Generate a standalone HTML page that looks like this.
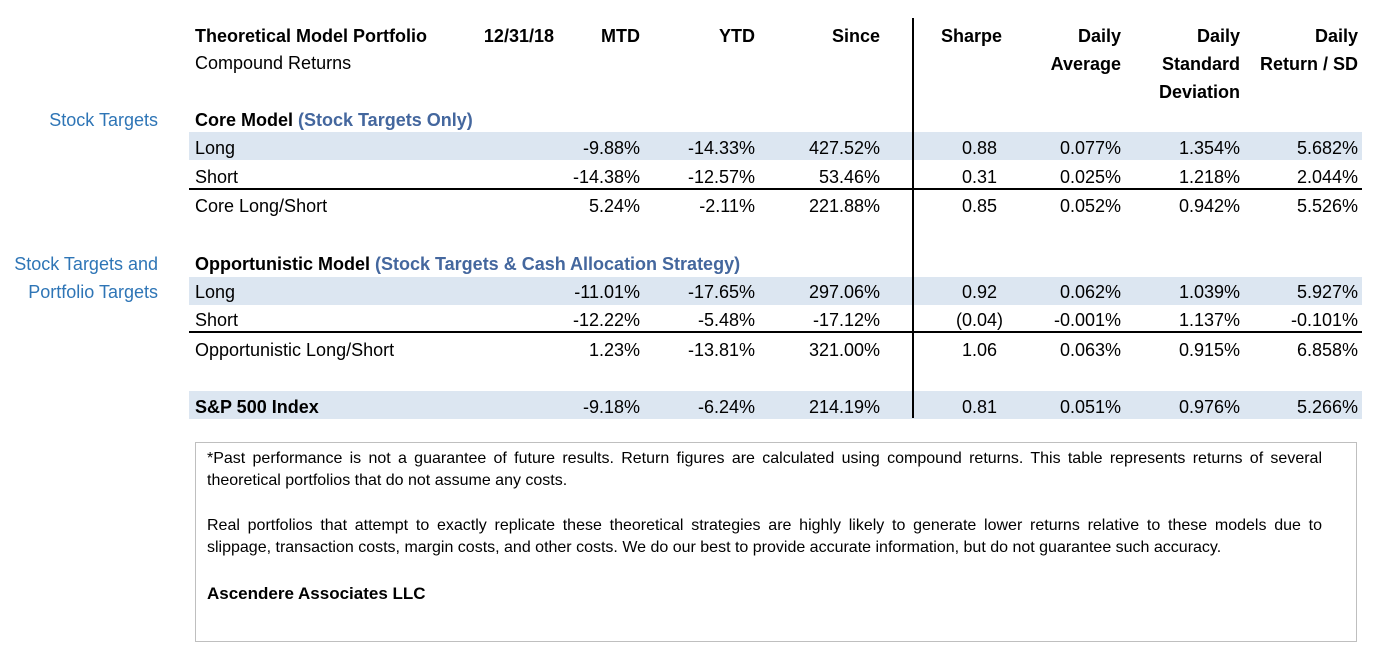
<!DOCTYPE html>
<html><head><meta charset="utf-8">
<style>
body{margin:0;width:1374px;height:650px;background:#fff;position:relative;overflow:hidden;font-family:"Liberation Sans",sans-serif;font-size:18px;color:#000}
.t{position:absolute;height:28px;line-height:30px;white-space:nowrap}
.r{text-align:right}
.b{font-weight:bold}
.shade{position:absolute;left:189px;width:1173px;background:#dce6f1}
.hl{position:absolute;left:189px;width:1173px;height:2px;background:#000}
.lbl{color:#2e75b6}
.sub{color:#44679e}
#box{position:absolute;left:195px;top:442px;width:1160px;height:198px;border:1px solid #bfbfbf}
.fn{position:absolute;left:207px;font-size:16px;line-height:22px;white-space:nowrap}
.j{width:1115px;text-align:justify;text-align-last:justify;white-space:normal}
</style></head><body>
<div class="shade" style="top:132px;height:28px"></div>
<div class="shade" style="top:277px;height:28px"></div>
<div class="shade" style="top:391px;height:28px"></div>
<div class="hl" style="top:188px"></div>
<div class="hl" style="top:331px"></div>
<div style="position:absolute;left:912px;top:18px;width:2px;height:400px;background:#000"></div>

<div class="t b" style="left:195px;top:21px">Theoretical Model Portfolio</div>
<div class="t b r" style="right:820px;top:21px">12/31/18</div>
<div class="t" style="left:195px;top:48px">Compound Returns</div>
<div id="hdrs"></div>

<div class="t lbl r" style="right:1216px;top:105px">Stock Targets</div>
<div class="t lbl r" style="right:1216px;top:249px">Stock Targets and</div>
<div class="t lbl r" style="right:1216px;top:277px">Portfolio Targets</div>
<div class="t b" style="left:195px;top:105px">Core Model <span class="sub">(Stock Targets Only)</span></div>
<div class="t b" style="left:195px;top:249px">Opportunistic Model <span class="sub">(Stock Targets &amp; Cash Allocation Strategy)</span></div>
<div id="rows"></div>

<div id="box"></div>
<div class="fn j" style="top:448px">*Past performance is not a guarantee of future results. Return figures are calculated using compound returns. This table represents returns of several</div>
<div class="fn" style="top:470px">theoretical portfolios that do not assume any costs.</div>
<div class="fn j" style="top:515px">Real portfolios that attempt to exactly replicate these theoretical strategies are highly likely to generate lower returns relative to these models due to</div>
<div class="fn" style="top:537px">slippage, transaction costs, margin costs, and other costs. We do our best to provide accurate information, but do not guarantee such accuracy.</div>
<div class="fn b" style="top:583px;font-size:17px">Ascendere Associates LLC</div>

<script>
const colRight=[640,755,880,997,1121,1240,1358];
const headers=[["MTD"],["YTD"],["Since"],["Sharpe"],["Daily","Average"],["Daily","Standard","Deviation"],["Daily","Return / SD"]];
const rowLabels=["Long","Short","Core Long/Short","Long","Short","Opportunistic Long/Short","S&P 500 Index"];
const rowTops=[133,162,191,277,305,335,392];
const values=[
["-9.88%","-14.33%","427.52%","0.88","0.077%","1.354%","5.682%"],
["-14.38%","-12.57%","53.46%","0.31","0.025%","1.218%","2.044%"],
["5.24%","-2.11%","221.88%","0.85","0.052%","0.942%","5.526%"],
["-11.01%","-17.65%","297.06%","0.92","0.062%","1.039%","5.927%"],
["-12.22%","-5.48%","-17.12%","(0.04)","-0.001%","1.137%","-0.101%"],
["1.23%","-13.81%","321.00%","1.06","0.063%","0.915%","6.858%"],
["-9.18%","-6.24%","214.19%","0.81","0.051%","0.976%","5.266%"]];
const H=document.getElementById('hdrs');
headers.forEach((h,c)=>{h.forEach((s,k)=>{const d=document.createElement('div');d.className='t b r';
d.style.right=(1374-(c==3?1002:colRight[c]))+'px';d.style.top=(21+k*28)+'px';d.textContent=s;


H.appendChild(d);});});
const R=document.getElementById('rows');
rowLabels.forEach((l,i)=>{const d=document.createElement('div');d.className='t'+(i==6?' b':'');d.style.left='195px';d.style.top=rowTops[i]+'px';d.textContent=l;


R.appendChild(d);
values[i].forEach((v,c)=>{const e=document.createElement('div');e.className='t r';
let rr=colRight[c];if(v.endsWith(')'))rr+=6;
e.style.right=(1374-rr)+'px';e.style.top=rowTops[i]+'px';e.textContent=v;


R.appendChild(e);});});
</script>
</body></html>
